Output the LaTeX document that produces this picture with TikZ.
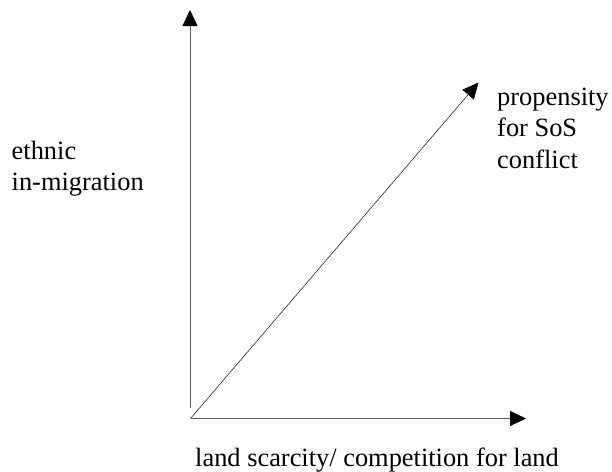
\documentclass[tikz,border=0pt]{standalone}
\usepackage{fontspec}
\setmainfont{Liberation Serif}
\usetikzlibrary{arrows.meta}
\begin{document}
\begin{tikzpicture}[x=1pt,y=-1pt,
  axis/.style={draw=black!65,line width=0.8pt,-{Triangle[length=16pt,width=15pt,fill=black,color=black]}},
  diag/.style={draw=black!85,line width=0.6pt,-{Triangle[length=16pt,width=15pt,fill=black,color=black]}},
  lbl/.style={inner sep=0pt,anchor=base west,font=\fontsize{26.4}{31.5}\selectfont}]
\useasboundingbox (0,0) rectangle (612,471);
\coordinate (vstart) at (190,408);
\coordinate (vtop) at (190,10);
\coordinate (o) at (190.5,418.5);
\coordinate (hend) at (526,418.5);
\coordinate (dend) at (478.5,82.5);
\draw[axis] (vstart) -- (vtop);
\draw[axis] (o) -- (hend);
\draw[diag] (o) -- (dend);
\node[lbl] (e1) at (11.5,159.5) {ethnic};
\node[lbl] (e2) at (11.5,190.5) {in-migration};
\node[lbl] (p1) at (497,105) {propensity};
\node[lbl] (p2) at (497,136.5) {for SoS};
\node[lbl] (p3) at (497,168) {conflict};
\node[lbl] (x1) at (195,466) {land scarcity/ competition for land};
\end{tikzpicture}
\end{document}
